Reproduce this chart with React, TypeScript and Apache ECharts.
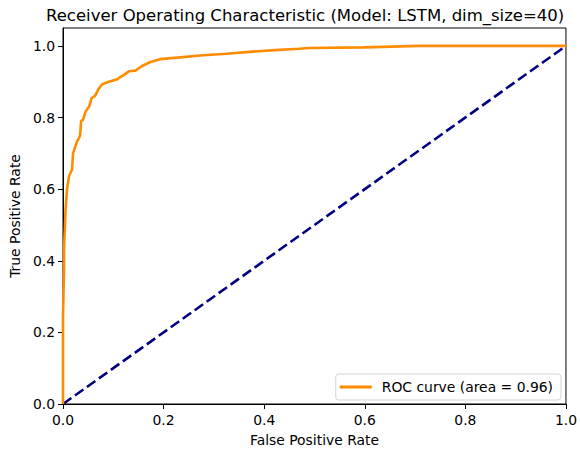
import React, { useEffect, useRef } from "react";
import * as echarts from "echarts";

const titleText = "Receiver Operating Characteristic (Model: LSTM, dim_size=40)";
const rocLabel = "ROC curve (area = 0.96)";
const xName = "False Positive Rate";
const yName = "True Positive Rate";
const tickValues = [0, 0.2, 0.4, 0.6, 0.8, 1.0];

const fpr = [0, 0, 0.002, 0.002, 0.004, 0.005, 0.008, 0.012, 0.018, 0.02, 0.027, 0.032, 0.034, 0.036, 0.04, 0.045, 0.052, 0.057, 0.064, 0.07, 0.078, 0.091, 0.108, 0.121, 0.131, 0.144, 0.157, 0.174, 0.193, 0.233, 0.272, 0.325, 0.377, 0.43, 0.469, 0.489, 0.598, 0.709, 1.0];
const tpr = [0, 0.24, 0.37, 0.43, 0.5, 0.54, 0.6, 0.636, 0.655, 0.7, 0.73, 0.744, 0.75, 0.79, 0.794, 0.817, 0.831, 0.854, 0.861, 0.878, 0.893, 0.9, 0.907, 0.919, 0.929, 0.931, 0.944, 0.955, 0.963, 0.968, 0.973, 0.978, 0.984, 0.989, 0.992, 0.994, 0.996, 1.0, 1.0];
const diagX = [0, 1];
const diagY = [0, 1];

const FONT = "DejaVu Sans";

export default function App() {
  const ref = useRef<HTMLDivElement>(null);
  useEffect(() => {
    if (!ref.current) return;
    const chart = echarts.init(ref.current, null, { renderer: "svg" });
    const axisCommon = {
      type: "value" as const,
      axisLine: { show: true, lineStyle: { color: "#000", width: 1 } },
      axisTick: { show: true, inside: false, length: 5, lineStyle: { color: "#000", width: 1 }, customValues: tickValues },
      axisLabel: {
        color: "#000",
        fontFamily: FONT,
        fontSize: 13.9,
        customValues: tickValues,
        formatter: (v: number) => v.toFixed(1),
      },
      splitLine: { show: false },
      nameLocation: "middle" as const,
      nameTextStyle: { color: "#000", fontFamily: FONT, fontSize: 13.9 },
    };
    chart.setOption({
      animation: false,
      backgroundColor: "#fff",
      title: {
        text: titleText,
        left: 41,
        top: 2,
        textStyle: { color: "#000", fontFamily: FONT, fontSize: 16.5, fontWeight: "normal" },
      },
      grid: {
        left: 62,
        right: 11,
        top: 28,
        bottom: 46,
        show: true,
        borderColor: "#000",
        borderWidth: 1,
        backgroundColor: "transparent",
      },
      xAxis: {
        ...axisCommon,
        min: 0,
        max: 1,
        interval: 0.2,
        name: xName,
        nameGap: 29,
        axisLabel: { ...axisCommon.axisLabel, margin: 9 },
      },
      yAxis: {
        ...axisCommon,
        min: 0,
        max: 1.05,
        interval: 0.2,
        name: yName,
        nameGap: 39,
        axisLabel: { ...axisCommon.axisLabel, margin: 8 },
      },
      legend: {
        data: [rocLabel],
        right: 19,
        bottom: 52,
        orient: "vertical",
        backgroundColor: "#fff",
        borderColor: "#d5d5d5",
        borderWidth: 1,
        borderRadius: 3,
        padding: [6, 8, 6, 4],
        icon: "rect",
        itemWidth: 32,
        itemHeight: 3,
        textStyle: { color: "#000", fontFamily: FONT, fontSize: 13.9, padding: [0, 0, 0, 5] },
      },
      series: [
        {
          name: rocLabel,
          type: "line",
          data: fpr.map((x, i) => [x, tpr[i]]),
          showSymbol: false,
          symbol: "none",
          lineStyle: { color: "#ff8c00", width: 2.6 },
          itemStyle: { color: "#ff8c00" },
          z: 3,
        },
        {
          name: "chance",
          type: "line",
          data: diagX.map((x, i) => [x, diagY[i]]),
          showSymbol: false,
          symbol: "none",
          lineStyle: { color: "#000080", width: 2.6, type: [10.3, 4.4] },
          itemStyle: { color: "#000080" },
          z: 2,
        },
      ],
    });
    return () => chart.dispose();
  }, []);
  return <div ref={ref} style={{ position: "absolute", left: 0, top: 0, width: 580, height: 452 }} />;
}
